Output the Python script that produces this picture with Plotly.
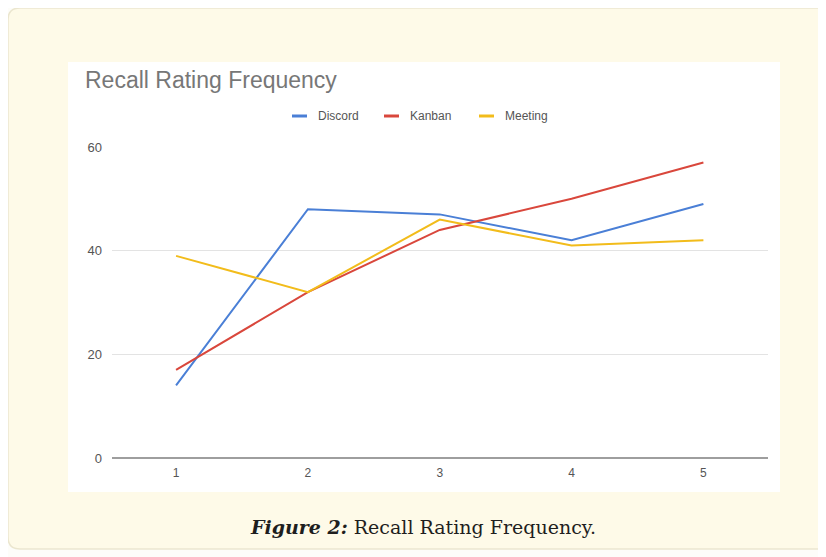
import plotly.graph_objects as go

ratings = [1, 2, 3, 4, 5]
discord = [14, 48, 47, 42, 49]
kanban = [17, 32, 44, 50, 57]
meeting = [39, 32, 46, 41, 42]
y_ticks = [0, 20, 40, 60]
series_names = ["Discord", "Kanban", "Meeting"]
series_colors = ["#4a7fd6", "#d9473c", "#f2bc1b"]

# the page body adds an 8px margin; work in figure pixel coordinates
OFF = 8
W, H = 826 - OFF, 557 - OFF
L, R, T, B = 112 - OFF, 768 - OFF, 147 - OFF, 458 - OFF

fig = go.Figure()
for name, vals, col in zip(series_names, [discord, kanban, meeting], series_colors):
    fig.add_trace(go.Scatter(x=ratings, y=vals, mode="lines", name=name,
                             line=dict(color=col, width=2)))

# reference-screenshot pixel -> paper (paper spans the plot area)
def px_x(v):
    return (v - OFF - L) / (R - L)

def px_y(v):
    return (B - (v - OFF)) / (B - T)

shapes = [
    dict(type="path", xref="paper", yref="paper",
         path=(f"M {px_x(20)},{px_y(8)} L {px_x(840)},{px_y(8)} L {px_x(840)},{px_y(549)} "
               f"L {px_x(20)},{px_y(549)} Q {px_x(8)},{px_y(549)} {px_x(8)},{px_y(537)} "
               f"L {px_x(8)},{px_y(20)} Q {px_x(8)},{px_y(8)} {px_x(20)},{px_y(8)} Z"),
         fillcolor="#fefae8", line=dict(color="#ebe6cf", width=1.5), layer="below"),
    dict(type="rect", xref="paper", yref="paper",
         x0=px_x(68), x1=px_x(780), y0=px_y(492), y1=px_y(62),
         fillcolor="white", line=dict(width=0), layer="below"),
]

annotations = [
    dict(text="Recall Rating Frequency", xref="paper", yref="paper",
         x=px_x(83), y=px_y(80), xanchor="left", yanchor="middle", showarrow=False,
         font=dict(family="Arial, Liberation Sans", size=23, color="#777777")),
    dict(text="<b><i>Figure 2:</i></b> Recall Rating Frequency.", xref="paper", yref="paper",
         x=px_x(423), y=px_y(527), xanchor="center", yanchor="middle", showarrow=False,
         font=dict(family="DejaVu Serif, serif", size=19, color="#1e1e1e")),
]

# manual legend (short swatches like the reference)
legend_x = [292, 384, 479]
for name, col, lx in zip(series_names, series_colors, legend_x):
    shapes.append(dict(type="line", xref="paper", yref="paper",
                       x0=px_x(lx), x1=px_x(lx + 15), y0=px_y(116), y1=px_y(116),
                       line=dict(color=col, width=3)))
    annotations.append(dict(text=name, xref="paper", yref="paper",
                            x=px_x(lx + 24), y=px_y(116), xanchor="left", yanchor="middle",
                            showarrow=False,
                            font=dict(family="Arial, Liberation Sans", size=12, color="#555555")))

fig.update_layout(
    width=W, height=H,
    margin=dict(l=L, r=W - R, t=T, b=H - B, pad=0),
    paper_bgcolor="#fdfdf9",
    plot_bgcolor="rgba(0,0,0,0)",
    shapes=shapes,
    annotations=annotations,
    showlegend=False,
    xaxis=dict(range=[0.514, 5.49], tickvals=ratings, ticktext=[str(r) for r in ratings],
               showgrid=False, zeroline=False, showline=False, ticks="",
               ticklabelstandoff=6,
               tickfont=dict(family="Arial, Liberation Sans", size=12, color="#555555"),
               fixedrange=True),
    yaxis=dict(range=[0, 60], tickvals=y_ticks, ticktext=[str(t) for t in y_ticks],
               showgrid=True, gridcolor="#e3e3e3", gridwidth=1, zeroline=True,
               zerolinecolor="#9e9e9e", zerolinewidth=1.5, showline=False, ticks="",
               ticklabelstandoff=9,
               tickfont=dict(family="Arial, Liberation Sans", size=13, color="#555555"),
               fixedrange=True),
)

fig.write_html("out.html")
